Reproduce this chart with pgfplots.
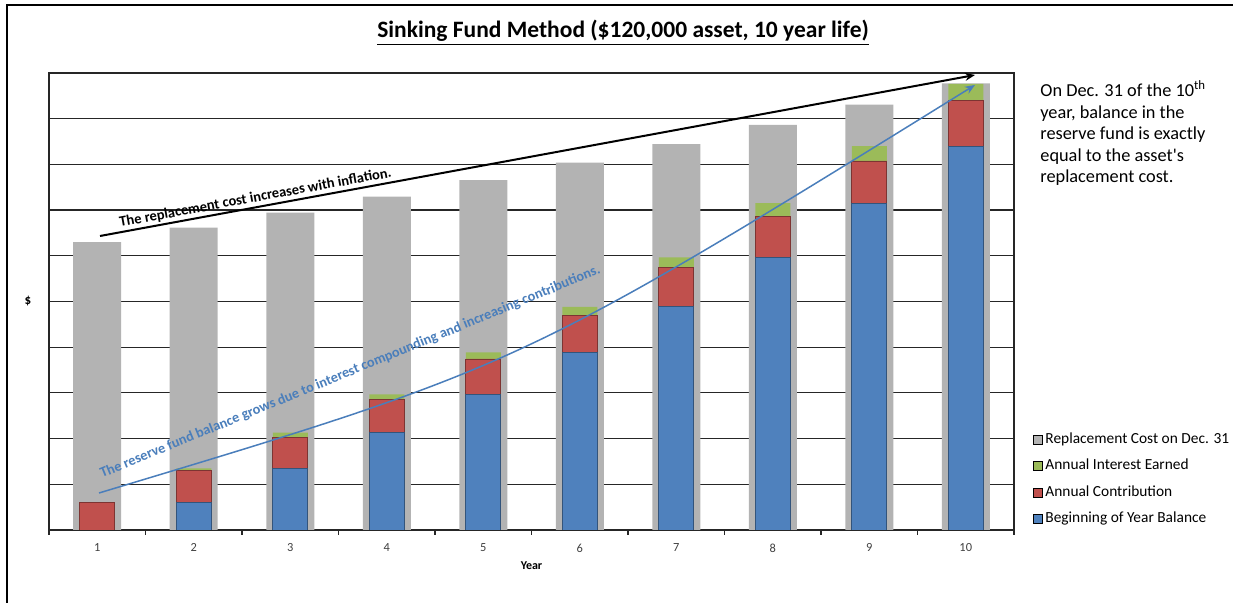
\documentclass[border=0pt]{standalone}
\usepackage{fontspec}
\setmainfont{Carlito}
\usepackage{pgfplots}
\pgfplotsset{compat=1.18}
\usetikzlibrary{arrows.meta}
\definecolor{repl}{RGB}{179,179,179}
\definecolor{bblue}{RGB}{79,129,189}
\definecolor{bred}{RGB}{192,80,77}
\definecolor{bgreen}{RGB}{155,187,89}
\definecolor{annblue}{RGB}{74,126,187}
\definecolor{ticktxt}{RGB}{64,64,64}
\begin{document}
\begin{tikzpicture}
\useasboundingbox (0,0) rectangle (616.5pt,-301.5pt);
\draw[line width=1pt] (3.5pt,-302pt) -- (3.5pt,-2.5pt) -- (617pt,-2.5pt);
\begin{axis}[
  at={(24.5pt,-265pt)}, anchor=south west,
  scale only axis, width=482.5pt, height=228.5pt,
  xmin=0.5, xmax=10.5, ymin=0, ymax=200000, enlargelimits=false,
  scaled y ticks=false,
  ybar, bar width=24pt,
  xtick={1,...,10}, minor xtick={0.5,1.5,...,10.5},
  ytick={0,20000,...,200000}, yticklabels={},
  ymajorgrids, y grid style={black!85, line width=0.6pt},
  major tick length=0pt, minor tick length=2.5pt, tick align=outside,
  xtick pos=lower, ytick pos=left,
  every tick/.style={black!85, line width=0.6pt},
  minor tick style={black!85, line width=0.6pt},
  axis line style={black!85, line width=0.6pt},
  /pgf/number format/assume math mode=true,
  xticklabel style={font=\fontsize{6.2}{7}\selectfont, text=ticktxt, yshift=-3.3pt},
  xlabel={Year}, xlabel style={font=\bfseries\fontsize{6}{7}\selectfont, at={(axis description cs:0.5,0)}, anchor=center, yshift=-18pt},
  ylabel={\$}, ylabel style={font=\bfseries\fontsize{6.5}{7}\selectfont, rotate=-90, at={(axis description cs:0,0.5)}, anchor=center, xshift=-10.5pt},
]
\addplot[fill=repl, draw=none] coordinates {(1,126000) (2,132300) (3,138915) (4,145861) (5,153154) (6,160811) (7,168852) (8,177295) (9,186159) (10,195467)};
\end{axis}
\begin{axis}[
  at={(24.5pt,-265pt)}, anchor=south west,
  scale only axis, width=482.5pt, height=228.5pt,
  xmin=0.5, xmax=10.5, ymin=0, ymax=200000, enlargelimits=false,
  hide axis, ybar stacked, bar width=17.5pt,
  legend cell align=left,
  legend style={at={(1.0197,0.2188)}, anchor=north west, draw=none, fill=none,
    font=\fontsize{7.7}{9}\selectfont, row sep=4.0pt, inner sep=0pt,
    nodes={inner sep=1.2pt}},
  legend image code/.code={\fill[#1] (0pt,-2.2pt) rectangle (4.4pt,2.2pt);},
]
\addplot[fill=bblue, draw=bblue!65!black, line width=0.3pt, forget plot] coordinates {(1,0) (2,12250) (3,27000) (4,42600) (5,59400) (6,77750) (7,97700) (8,119350) (9,143000) (10,168050)};
\addplot[fill=bred, draw=bred!65!black, line width=0.3pt, forget plot] coordinates {(1,12250) (2,13700) (3,13570) (4,14600) (5,15440) (6,16340) (7,17090) (8,17760) (9,18490) (10,19830)};
\addplot[fill=bgreen, draw=none, forget plot] coordinates {(1,0) (2,1050) (3,2030) (4,2200) (5,2910) (6,3610) (7,4560) (8,5890) (9,6560) (10,7320)};
\addlegendimage{fill=repl}
\addlegendentry{Replacement Cost on Dec. 31}
\addlegendimage{fill=bgreen}
\addlegendentry{Annual Interest Earned}
\addlegendimage{fill=bred}
\addlegendentry{Annual Contribution}
\addlegendimage{fill=bblue}
\addlegendentry{Beginning of Year Balance}
\end{axis}
\begin{scope}[x=0.5pt,y=-0.5pt]
\draw[line width=1pt, -{Stealth[length=5pt,width=4pt]}] (100,236) -- (975,75);
\node[rotate=10.43, anchor=base west, inner sep=0pt, font=\bfseries\fontsize{7.25}{8}\selectfont] at (120,227) {The replacement cost increases with inflation.};
\draw[annblue, line width=0.75pt, -{Stealth[length=5pt,width=4pt]}] (99,493) .. controls (521,366) .. (975,85);
\node[rotate=22.3, anchor=base west, inner sep=0pt, text=annblue, font=\bfseries\fontsize{7.15}{8}\selectfont] at (102,478) {The reserve fund balance grows due to interest compounding and increasing contributions.};
\node[anchor=north west, align=left, inner sep=0pt, font=\fontsize{9.15}{10.75}\selectfont] at (1040,80) {On Dec. 31 of the 10\textsuperscript{th}\\year, balance in the\\reserve fund is exactly\\equal to the asset\textquotesingle s\\replacement cost.};
\node[font=\bfseries\fontsize{11.75}{13}\selectfont] at (623,33) {\underline{Sinking Fund Method (\$120,000 asset, 10 year life)}};
\end{scope}
\end{tikzpicture}
\end{document}
